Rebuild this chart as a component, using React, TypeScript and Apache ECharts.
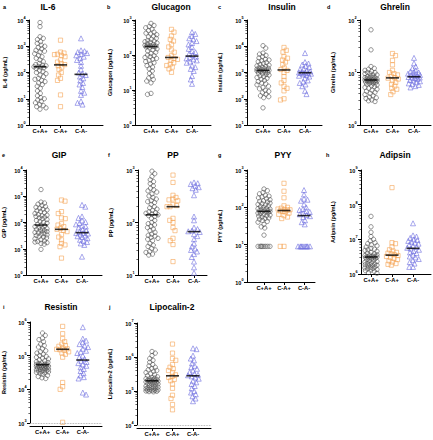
import React, { useEffect, useRef } from "react";
import * as echarts from "echarts";

// ---------- DATA ----------
const GROUPS = ["C+A+", "C-A+", "C-A-"];
const PANEL_NAMES = ["IL-6", "Glucagon", "Insulin", "Ghrelin", "GIP", "PP", "PYY", "Adipsin", "Resistin", "Lipocalin-2"];
const PANEL_LETTERS = ["a", "b", "c", "d", "e", "f", "g", "h", "i", "j"];
const Y_MIN_EXP = [0, 0, 1, 0, 0, 1, 0, 6, 3, 4];
const Y_MAX_EXP = [4, 3, 5, 2, 4, 3, 3, 9, 6, 7];

// IL-6
const IL6_CPAP = [8000, 5600, 2300, 2000, 1800, 1500, 1300, 1100, 1000, 900, 800, 700, 650, 600, 520, 450, 400, 350, 300, 260, 220, 200, 190, 180, 170, 165, 160, 150, 140, 120, 110, 100, 90, 80, 70, 60, 55, 50, 45, 40, 35, 30, 25, 20, 16, 13, 11, 10, 9, 8, 7, 6, 5.5, 5, 4.5, 4];
const IL6_CMAP = [1700, 600, 550, 500, 480, 450, 400, 300, 250, 220, 200, 180, 160, 130, 100, 80, 60, 50, 14, 5];
const IL6_CMAM = [2000, 700, 650, 600, 550, 500, 450, 400, 350, 300, 250, 180, 130, 100, 90, 80, 70, 60, 50, 40, 35, 28, 20, 17, 14, 8, 7, 6];
const IL6_MED = [166, 195, 85];
// Glucagon
const GLUC_CPAP = [800, 700, 650, 600, 550, 500, 450, 420, 400, 380, 350, 330, 300, 280, 260, 250, 240, 230, 220, 210, 200, 190, 185, 180, 178, 176, 175, 170, 160, 150, 140, 130, 120, 110, 100, 95, 90, 85, 80, 75, 70, 65, 60, 55, 50, 45, 40, 35, 30, 25, 22, 20, 18, 16, 8, 7.5];
const GLUC_CMAP = [540, 450, 350, 280, 250, 200, 170, 140, 120, 95, 85, 80, 75, 70, 60, 55, 50, 45, 40, 32];
const GLUC_CMAM = [450, 400, 350, 300, 280, 250, 220, 200, 170, 150, 130, 120, 110, 100, 90, 85, 80, 75, 70, 65, 60, 50, 45, 40, 35, 25, 20, 15];
const GLUC_MED = [175, 85, 93];
// Insulin
const INS_CPAP = [10500, 8500, 5500, 5000, 4500, 4000, 3600, 3200, 3000, 2800, 2600, 2400, 2200, 2000, 1900, 1800, 1700, 1600, 1500, 1450, 1400, 1350, 1300, 1250, 1200, 1200, 1150, 1150, 1100, 1050, 1000, 950, 900, 850, 800, 750, 700, 650, 600, 550, 500, 450, 400, 370, 340, 300, 270, 240, 210, 190, 170, 150, 130, 120, 110, 45];
const INS_CMAP = [9000, 7000, 6000, 4000, 3500, 3000, 2500, 2000, 1500, 1300, 1200, 1000, 700, 500, 400, 300, 250, 200, 100, 90];
const INS_CMAM = [5500, 2500, 2200, 2000, 1800, 1600, 1400, 1300, 1200, 1100, 1050, 1000, 1000, 950, 950, 900, 850, 800, 750, 700, 600, 500, 450, 400, 350, 300, 200, 150];
const INS_MED = [1200, 1250, 980];
// Ghrelin
const GHR_CPAP = [65, 27, 13, 12, 11.5, 11, 10.5, 10, 10, 9.5, 9.5, 9, 9, 8.5, 8.5, 8, 8, 8, 7.8, 7.6, 7.5, 7.4, 7.3, 7.2, 7.2, 7.1, 7.1, 7, 7, 6.9, 6.8, 6.7, 6.6, 6.5, 6.4, 6.3, 6.2, 6, 5.8, 5.6, 5.4, 5.2, 5, 4.8, 4.6, 4.4, 4.2, 4, 3.8, 3.6, 3.4, 3.3, 3.2, 3, 2.9, 2.8];
const GHR_CMAP = [23, 21, 17, 14, 11, 10, 9.5, 9, 8.5, 8, 7.8, 7.5, 7, 6.5, 6, 5.5, 5, 4.8, 4.3, 3.8];
const GHR_CMAM = [19, 15, 13, 12, 11, 10.5, 10, 10, 9.5, 9.5, 9, 9, 8.8, 8.5, 8.2, 8, 8, 7.8, 7.5, 7.2, 7, 6.8, 6.5, 6.2, 6, 5.8, 5.5, 5.2];
const GHR_MED = [7.2, 7.9, 8.3];
// GIP
const GIP_CPAP = [1800, 600, 550, 500, 450, 400, 380, 350, 320, 300, 280, 260, 240, 220, 200, 190, 180, 170, 160, 150, 140, 130, 120, 110, 100, 95, 85, 80, 75, 70, 65, 60, 58, 55, 52, 50, 48, 45, 42, 40, 38, 36, 34, 32, 30, 28, 26, 24, 22, 20, 19, 18, 17, 16, 15, 9.5];
const GIP_CMAP = [720, 650, 260, 220, 150, 140, 90, 80, 70, 60, 55, 50, 45, 35, 28, 22, 16, 14, 12, 4.4];
const GIP_CMAM = [470, 400, 170, 150, 120, 105, 95, 85, 75, 70, 65, 55, 50, 45, 40, 40, 38, 35, 32, 30, 28, 25, 22, 20, 18, 16, 14, 5];
const GIP_MED = [80, 55, 41];
// PP
const PP_CPAP = [950, 850, 750, 650, 600, 550, 500, 450, 420, 400, 380, 350, 320, 300, 280, 260, 250, 240, 220, 200, 190, 180, 170, 160, 155, 150, 145, 140, 135, 130, 120, 110, 100, 95, 90, 85, 80, 75, 70, 65, 60, 57, 55, 52, 50, 48, 45, 40, 37, 35, 32, 30, 28, 27, 25, 24];
const PP_CMAP = [800, 580, 330, 300, 280, 270, 260, 220, 210, 200, 200, 120, 110, 100, 80, 70, 50, 45, 38, 18];
const PP_CMAM = [580, 560, 540, 500, 470, 450, 420, 330, 130, 110, 80, 75, 70, 68, 66, 60, 55, 48, 40, 35, 32, 30, 28, 25, 22, 18, 14, 11];
const PP_MED = [140, 200, 67];
// PYY
const PYY_CPAP = [310, 280, 250, 230, 210, 200, 190, 180, 170, 160, 150, 145, 140, 130, 125, 120, 115, 110, 105, 100, 95, 92, 90, 88, 85, 82, 80, 78, 76, 74, 72, 70, 68, 65, 62, 60, 58, 55, 52, 50, 48, 45, 42, 40, 35, 30, 28, 18, 9, 9, 9, 9, 9, 9, 9, 9];
const PYY_CMAP = [440, 270, 180, 110, 100, 95, 90, 88, 86, 84, 80, 78, 75, 70, 65, 60, 55, 50, 9, 9];
const PYY_CMAM = [290, 220, 170, 160, 150, 120, 100, 90, 85, 80, 75, 70, 65, 62, 58, 55, 45, 40, 35, 9, 9, 9, 9, 9, 9, 9, 9, 9];
const PYY_MED = [78, 82, 60];
// Adipsin
const ADI_CPAP = [4.6e7, 2.3e7, 1.6e7, 1.2e7, 1.0e7, 9e6, 8e6, 7.5e6, 7e6, 6.5e6, 6e6, 5.5e6, 5.2e6, 5e6, 4.8e6, 4.5e6, 4.2e6, 4e6, 3.8e6, 3.6e6, 3.5e6, 3.4e6, 3.3e6, 3.2e6, 3.15e6, 3.1e6, 3.05e6, 3e6, 2.95e6, 2.9e6, 2.8e6, 2.7e6, 2.6e6, 2.5e6, 2.4e6, 2.3e6, 2.2e6, 2.1e6, 2e6, 1.95e6, 1.9e6, 1.85e6, 1.8e6, 1.75e6, 1.7e6, 1.6e6, 1.55e6, 1.5e6, 1.45e6, 1.4e6, 1.35e6, 1.3e6, 1.25e6, 1.2e6, 1.1e6, 1.05e6];
const ADI_CMAP = [3.1e8, 8e6, 7.5e6, 6e6, 5e6, 4.6e6, 4.2e6, 4e6, 3.8e6, 3.6e6, 3.4e6, 3.2e6, 3e6, 2.8e6, 2.6e6, 2.4e6, 2.2e6, 2e6, 1.9e6, 1.8e6];
const ADI_CMAM = [2.9e7, 1.3e7, 1.2e7, 1.1e7, 1e7, 9.5e6, 9e6, 8.5e6, 8e6, 7.5e6, 7e6, 6.5e6, 6e6, 5.7e6, 5.4e6, 5e6, 4.6e6, 4.2e6, 4e6, 3.6e6, 3.2e6, 3e6, 2.7e6, 2.5e6, 2.2e6, 2e6, 1.6e6, 1.6e6];
const ADI_MED = [3.1e6, 3.5e6, 5.5e6];
// Resistin
const RES_CPAP = [4.7e5, 4e5, 3.3e5, 3e5, 2.6e5, 2.2e5, 2e5, 1.8e5, 1.6e5, 1.4e5, 1.3e5, 1.2e5, 1.1e5, 1e5, 9.5e4, 9e4, 8.5e4, 8e4, 7.5e4, 7e4, 6.6e4, 6.3e4, 6e4, 5.8e4, 5.6e4, 5.5e4, 5.4e4, 5.3e4, 5.2e4, 5.1e4, 5e4, 4.9e4, 4.8e4, 4.7e4, 4.6e4, 4.5e4, 4.4e4, 4.3e4, 4.2e4, 4.1e4, 4e4, 3.9e4, 3.8e4, 3.7e4, 3.6e4, 3.5e4, 3.4e4, 3.3e4, 3.2e4, 3.1e4, 3e4, 2.8e4, 2.6e4, 2.4e4, 2.2e4, 2.1e4];
const RES_CMAP = [7.4e5, 4.5e5, 3.2e5, 2.6e5, 2.2e5, 2e5, 1.9e5, 1.7e5, 1.6e5, 1.55e5, 1.5e5, 1.45e5, 1.3e5, 1.2e5, 1.1e5, 9e4, 1.6e4, 1.2e4, 1e4, 1.05e3];
const RES_CMAM = [7e5, 3.2e5, 2.8e5, 2.5e5, 2.2e5, 2e5, 1.8e5, 1.6e5, 1.4e5, 1.3e5, 1.2e5, 1e5, 9e4, 8e4, 7e4, 6.5e4, 6e4, 5.5e4, 5e4, 4.5e4, 4e4, 3.5e4, 3e4, 2.6e4, 2.3e4, 2.1e4, 8e3, 7e3];
const RES_MED = [5.4e4, 1.55e5, 7.4e4];
// Lipocalin-2
const LCN_CPAP = [1.45e6, 1.3e6, 1.1e6, 9e5, 8e5, 7e5, 6e5, 5.5e5, 5e5, 4.6e5, 4.2e5, 4e5, 3.8e5, 3.5e5, 3.2e5, 3e5, 2.8e5, 2.6e5, 2.5e5, 2.4e5, 2.3e5, 2.25e5, 2.2e5, 2.15e5, 2.1e5, 2.05e5, 2e5, 2e5, 1.95e5, 1.9e5, 1.85e5, 1.8e5, 1.75e5, 1.7e5, 1.65e5, 1.6e5, 1.55e5, 1.5e5, 1.45e5, 1.4e5, 1.35e5, 1.3e5, 1.27e5, 1.24e5, 1.2e5, 1.17e5, 1.14e5, 1.1e5, 1.08e5, 1.06e5, 1.04e5, 1.02e5, 1e5, 9.8e4, 9.6e4, 9.5e4];
const LCN_CMAP = [2.4e6, 1.3e6, 9e5, 8e5, 6e5, 5e5, 4.5e5, 4e5, 3.5e5, 3e5, 2.7e5, 2.5e5, 2.2e5, 2e5, 1.6e5, 1.2e5, 7.5e4, 6e4, 4e4, 2.8e4];
const LCN_CMAM = [1.8e6, 1.7e6, 1.1e6, 9e5, 8e5, 6.5e5, 5.5e5, 5e5, 4.5e5, 4e5, 3.6e5, 3.2e5, 3e5, 2.9e5, 2.7e5, 2.5e5, 2.3e5, 2e5, 1.8e5, 1.6e5, 1.4e5, 1.2e5, 1e5, 9e4, 8e4, 7e4, 6e4, 5e4];
const LCN_MED = [2e5, 2.8e5, 2.8e5];

const PANEL_DATA = [
  [IL6_CPAP, IL6_CMAP, IL6_CMAM],
  [GLUC_CPAP, GLUC_CMAP, GLUC_CMAM],
  [INS_CPAP, INS_CMAP, INS_CMAM],
  [GHR_CPAP, GHR_CMAP, GHR_CMAM],
  [GIP_CPAP, GIP_CMAP, GIP_CMAM],
  [PP_CPAP, PP_CMAP, PP_CMAM],
  [PYY_CPAP, PYY_CMAP, PYY_CMAM],
  [ADI_CPAP, ADI_CMAP, ADI_CMAM],
  [RES_CPAP, RES_CMAP, RES_CMAM],
  [LCN_CPAP, LCN_CMAP, LCN_CMAM],
];
const PANEL_MEDIANS = [IL6_MED, GLUC_MED, INS_MED, GHR_MED, GIP_MED, PP_MED, PYY_MED, ADI_MED, RES_MED, LCN_MED];

// ---------- LAYOUT (pixels) ----------
// axisX, top, bottom, firstCat, lastCat, axisEnd, nameX, titleX, titleY, letterX, xAxisOffset, dottedBase
const LAYOUT = [
  [29, 20, 125, 40, 81, 103, 8, 48, 7, 3, 0, 0],
  [135, 20, 125, 151, 192, 211, 113, 171, 7, 107, 0, 0],
  [247, 20, 125, 263, 305, 322, 223, 282, 7, 218, 0, 0],
  [360, 20, 125, 371, 414, 431, 336, 395, 7, 327, 0, 0],
  [26, 170, 275, 41, 82, 102, 7, 59, 155, 2, 0, 0],
  [138, 170, 275, 152, 194, 207, 114, 173, 155, 108, 0, 0],
  [247, 170, 282, 264, 304, 315, 223, 283, 155, 218, 0, 0],
  [361, 170, 274, 371, 413, 431, 336, 395, 155, 326, 0, 0],
  [27, 322, 423, 40, 82, 102, 4, 61, 307, 3, 3, 1],
  [137, 323, 425, 152, 193, 211, 113, 172, 307, 109, 3, 1],
];

const COLORS = ["#505050", "#F5A453", "#6C6CE0"];
const SYMBOLS = ["circle", "rect", "triangle"];
const SYMBOL_SIZES = [4.4, 4.2, 5];
const FONT = "'Liberation Sans', Arial, sans-serif";

function swarmOffsets(values: number[], lo: number, hi: number, H: number, d: number, cap: number): number[] {
  const ys = values.map((v) => ((Math.log10(v) - lo) / (hi - lo)) * H);
  const order = ys.map((_, i) => i).sort((a, b) => ys[b] - ys[a]);
  const placed: { x: number; y: number }[] = [];
  const out: number[] = new Array(values.length).fill(0);
  let flip = 1;
  for (const i of order) {
    const y = ys[i];
    const near = placed.filter((p) => Math.abs(p.y - y) < d);
    let chosen: number | null = null;
    let bestX = 0;
    let bestMd = -1;
    const steps = Math.round(cap * 4);
    for (let s = 0; s <= steps && chosen === null; s++) {
      const cands = s === 0 ? [0] : [flip * s / 4, -flip * s / 4];
      for (const x of cands) {
        let md = Infinity;
        for (const p of near) {
          const dd = Math.hypot(p.x - x, p.y - y);
          if (dd < md) md = dd;
        }
        if (md >= d) {
          chosen = x;
          break;
        }
        if (md > bestMd) {
          bestMd = md;
          bestX = x;
        }
      }
    }
    const x = chosen === null ? bestX : chosen;
    if (x !== 0) flip = -flip;
    placed.push({ x, y });
    out[i] = x;
  }
  return out;
}

function buildOption() {
  const grid: any[] = [];
  const xAxis: any[] = [];
  const yAxis: any[] = [];
  const series: any[] = [];
  const graphic: any[] = [];

  LAYOUT.forEach((L, p) => {
    const [axisX, top, bottom, c1, c3, end, nameX, titleX, titleY, letterX, xOff, dotted] = L;
    const spacing = (c3 - c1) / 2;
    const xmin = 1 - (c1 - axisX) / spacing;
    const xmax = 3 + (end - c3) / spacing;
    const H = bottom - top;
    grid.push({ left: axisX, top, width: end - axisX, height: H, containLabel: false });
    xAxis.push({
      type: "value",
      gridIndex: p,
      min: xmin,
      max: xmax,
      offset: xOff,
      axisLine: { show: true, onZero: false, lineStyle: { color: "#000", width: 1 } },
      axisTick: { show: true, customValues: [1, 2, 3], length: 3, lineStyle: { color: "#000", width: 1 } },
      axisLabel: {
        customValues: [1, 2, 3],
        formatter: (v: number) => GROUPS[Math.round(v) - 1] ?? "",
        fontSize: 5.8,
        fontWeight: "bold",
        color: "#000",
        fontFamily: FONT,
        margin: 3,
      },
      splitLine: { show: false },
    });
    yAxis.push({
      type: "log",
      logBase: 10,
      gridIndex: p,
      min: Math.pow(10, Y_MIN_EXP[p]),
      max: Math.pow(10, Y_MAX_EXP[p]),
      name: `${PANEL_NAMES[p]} (pg/mL)`,
      nameLocation: "middle",
      nameGap: axisX - nameX,
      nameTextStyle: { fontSize: 5.5, fontWeight: "bold", color: "#000", fontFamily: FONT },
      axisLine: { show: true, lineStyle: { color: "#000", width: 1 } },
      axisTick: { show: true, length: 3, lineStyle: { color: "#000", width: 1 } },
      minorTick: { show: true, splitNumber: 9, length: 1.6, lineStyle: { color: "#000", width: 0.6 } },
      axisLabel: {
        margin: 3.5,
        formatter: (v: number) => `{b|10}{s|${Math.round(Math.log10(v))}}`,
        rich: {
          b: { fontSize: 5.5, fontWeight: "bold", color: "#000", fontFamily: FONT, lineHeight: 8, verticalAlign: "bottom" },
          s: { fontSize: 3.8, fontWeight: "bold", color: "#000", fontFamily: FONT, lineHeight: 8, verticalAlign: "top" },
        },
      },
      splitLine: { show: false },
      minorSplitLine: { show: false },
    });

    PANEL_DATA[p].forEach((vals, g) => {
      const offs = swarmOffsets(vals, Y_MIN_EXP[p], Y_MAX_EXP[p], H, 3.6, 6);
      series.push({
        type: "scatter",
        xAxisIndex: p,
        yAxisIndex: p,
        symbol: SYMBOLS[g],
        symbolSize: SYMBOL_SIZES[g],
        itemStyle: { color: "rgba(255,255,255,0)", borderColor: COLORS[g], borderWidth: 0.75 },
        data: vals.map((v, k) => ({ value: [g + 1, v], symbolOffset: [offs[k], 0] })),
        z: 2,
      });
    });
    const med: any = {
      type: "scatter",
      xAxisIndex: p,
      yAxisIndex: p,
      symbol: "rect",
      symbolSize: [13, 1.6],
      itemStyle: { color: "#000" },
      data: PANEL_MEDIANS[p].map((m, g) => [g + 1, m]),
      z: 5,
    };
    if (dotted) {
      med.markLine = {
        silent: true,
        symbol: "none",
        label: { show: false },
        lineStyle: { type: "dotted", color: "#999", width: 0.8 },
        data: [{ yAxis: Math.pow(10, Y_MIN_EXP[p]) }],
      };
    }
    series.push(med);

    graphic.push({
      type: "text",
      x: titleX,
      y: titleY,
      style: { text: PANEL_NAMES[p], align: "center", verticalAlign: "middle", fontSize: 8.5, fontWeight: "bold", fontFamily: FONT, fill: "#000" },
    });
    graphic.push({
      type: "text",
      x: letterX,
      y: titleY,
      style: { text: PANEL_LETTERS[p], align: "left", verticalAlign: "middle", fontSize: 5.5, fontWeight: "bold", fontFamily: FONT, fill: "#000" },
    });
  });

  return {
    animation: false,
    backgroundColor: "#fff",
    textStyle: { fontFamily: FONT },
    grid,
    xAxis,
    yAxis,
    series,
    graphic,
  };
}

export default function App() {
  const ref = useRef<HTMLDivElement>(null);
  useEffect(() => {
    if (!ref.current) return;
    const chart = echarts.init(ref.current, undefined, { renderer: "svg" });
    chart.setOption(buildOption() as any);
    return () => chart.dispose();
  }, []);
  return <div ref={ref} style={{ position: "absolute", left: 0, top: 0, width: 433, height: 440, background: "#fff" }} />;
}
